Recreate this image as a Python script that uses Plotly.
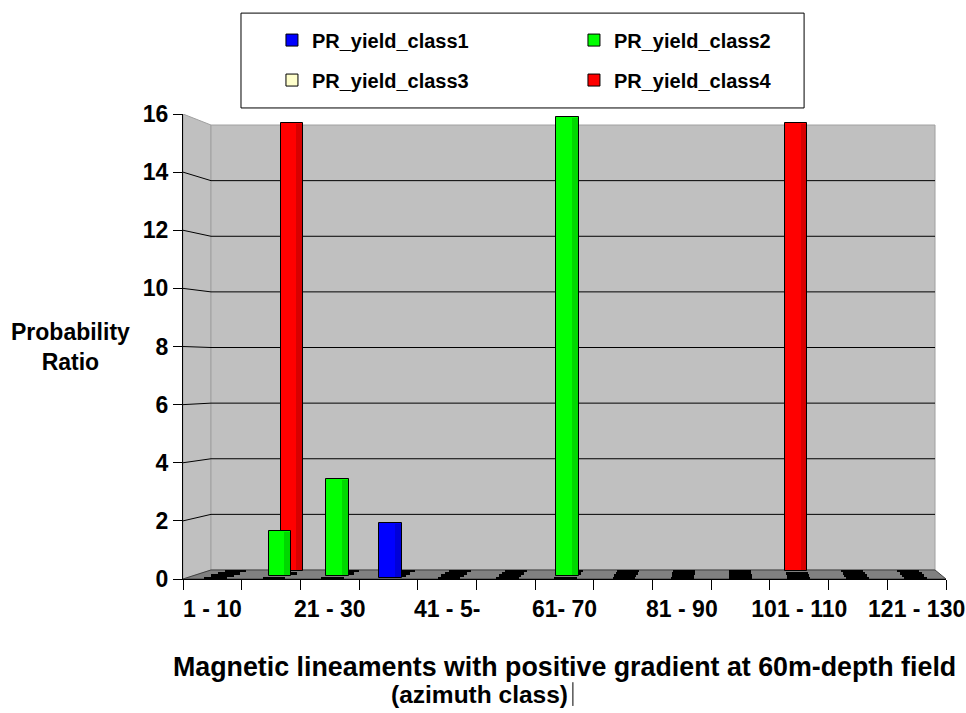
import plotly.graph_objects as go

# ---------------- data ----------------
categories = ["1 - 10", "11 - 20", "21 - 30", "31 - 40", "41 - 5-", "51 - 60", "61- 70",
              "71 - 80", "81 - 90", "91 - 100", "101 - 110", "111 - 120", "121 - 130"]
class1 = [0, 0, 0, 1.9, 0, 0, 0, 0, 0, 0, 0, 0, 0]
class2 = [0, 1.55, 3.35, 0, 0, 0, 15.9, 0, 0, 0, 0, 0, 0]
class3 = [0, 0, 0, 0, 0, 0, 0, 0, 0, 0, 0, 0, 0]
class4 = [0, 15.7, 0, 0, 0, 0, 0, 0, 0, 0, 15.7, 0, 0]
series_names = ["PR_yield_class1", "PR_yield_class2", "PR_yield_class3", "PR_yield_class4"]
series_values = [class1, class2, class3, class4]
series_colors = ["#0000FF", "#00FF00", "#FFFFCC", "#FF0000"]
side_colors = ["#0000D8", "#00D800", "#E0E0B0", "#D80000"]
shown_labels = categories[::2]
y_max = 16
y_step = 2

# ---------------- 3-D look helpers (depth f in 0..1) ----------------
N = len(categories)
WALL_DX0, WALL_DX1 = 0.477, -0.187   # horizontal depth shift at left / right end
FLOOR_DY = 0.31                       # vertical lift of the back wall floor
WALL_SHRINK = 0.0431
BAR_SHRINK = 0.02
BAR_W = 0.39
DASH_H = 0.09


def shift_x(x, f):
    return f * (WALL_DX0 + (WALL_DX1 - WALL_DX0) * x / N)


def wall_y(v, f):
    return v * (1 - WALL_SHRINK * f) + FLOOR_DY * f


fig = go.Figure()

# series are drawn back (class4) to front (class1)
for d in range(len(series_values) - 1, -1, -1):
    vals = series_values[d]
    f = (d + 0.5) / len(series_values)
    w = BAR_W * (1 - 0.05 * f)
    xs = [i + 0.5 + shift_x(i + 0.5, f) for i in range(N)]
    base = FLOOR_DY * f
    # zero-valued bars -> flat black dashes on the floor
    zx = [x for x, v in zip(xs, vals) if v == 0]
    fig.add_trace(go.Bar(
        x=zx, y=[DASH_H] * len(zx), base=[base - DASH_H / 2] * len(zx), width=w,
        marker=dict(color="black", line=dict(width=0)), showlegend=False, hoverinfo="skip"))
    hv = [v * (1 - BAR_SHRINK * f) if v else None for v in vals]
    fig.add_trace(go.Bar(
        x=xs, y=hv, base=[base] * N, width=w, name=series_names[d],
        marker=dict(color=series_colors[d], line=dict(color="black", width=1)),
        legend="legend" if d < 2 else "legend2", legendrank=d + 1,
        hovertemplate=series_names[d] + "<extra></extra>"))
    sw = 0.27 * w
    sx = [x + w / 2 - sw / 2 - 0.012 for x, v in zip(xs, vals) if v]
    sh = [v * (1 - BAR_SHRINK * f) - 0.06 for v in vals if v]
    fig.add_trace(go.Bar(
        x=sx, y=sh, base=[base + 0.03] * len(sx), width=sw,
        marker=dict(color=side_colors[d], line=dict(width=0)), showlegend=False, hoverinfo="skip"))

# helper trace so the category-label axis is rendered
fig.add_trace(go.Scatter(x=[0, N], y=[None, None], xaxis="x2", yaxis="y", mode="markers",
                         showlegend=False, hoverinfo="skip"))

# ---------------- walls, floor, gridlines ----------------
bxl, bxr = shift_x(0, 1), N + shift_x(N, 1)
shapes = []
shapes.append(dict(type="path", xref="x", yref="y", layer="below",
                   path=f"M0,0 L0,{y_max} L{bxl},{wall_y(y_max,1)} L{bxl},{wall_y(0,1)} Z",
                   fillcolor="#C0C0C0", line=dict(color="#A0A0A0", width=1)))
shapes.append(dict(type="path", xref="x", yref="y", layer="below",
                   path=f"M{bxl},{wall_y(0,1)} L{bxl},{wall_y(y_max,1)} L{bxr},{wall_y(y_max,1)} L{bxr},{wall_y(0,1)} Z",
                   fillcolor="#C0C0C0", line=dict(color="#A0A0A0", width=1)))
shapes.append(dict(type="path", xref="x", yref="y", layer="below",
                   path=f"M0,0 L{N},0 L{bxr},{wall_y(0,1)} L{bxl},{wall_y(0,1)} Z",
                   fillcolor="#808080", line=dict(color="#404040", width=1)))
for v in range(y_step, y_max, y_step):
    shapes.append(dict(type="path", xref="x", yref="y", layer="below",
                       path=f"M0,{v} L{bxl},{wall_y(v,1)} L{bxr},{wall_y(v,1)}",
                       line=dict(color="black", width=1)))
# legend box
shapes.append(dict(type="rect", xref="paper", yref="paper", layer="below",
                   x0=0.076, x1=0.814, y0=1.013, y1=1.217,
                   fillcolor="white", line=dict(color="black", width=1)))
# text cursor next to the axis title
shapes.append(dict(type="line", xref="paper", yref="paper", x0=0.511, x1=0.511,
                   y0=-0.222, y1=-0.273, line=dict(color="black", width=1)))

FONT = "Liberation Sans, Arial, sans-serif"
bold = lambda s: dict(family=FONT, size=s, color="black", weight="bold")

fig.update_layout(
    width=966, height=713,
    margin=dict(l=183, r=20, t=114, b=134, autoexpand=False),
    paper_bgcolor="white", plot_bgcolor="white",
    barmode="overlay", bargap=0,
    shapes=shapes,
    xaxis=dict(range=[0, N], tickvals=list(range(N + 1)), showticklabels=False,
               ticks="outside", ticklen=10, tickcolor="black", showline=True,
               linecolor="black", linewidth=1, showgrid=False, zeroline=False, fixedrange=True),
    xaxis2=dict(overlaying="x", anchor="y", side="bottom", range=[0, N],
                tickvals=[i + 0.5 for i in range(0, N, 2)], ticktext=shown_labels,
                ticks="outside", ticklen=9, tickcolor="rgba(0,0,0,0)", tickfont=bold(23),
                showline=False, showgrid=False, zeroline=False, fixedrange=True),
    yaxis=dict(range=[0, y_max], dtick=y_step, tick0=0, ticks="outside", ticklen=9,
               tickcolor="black", showline=True, linecolor="black", linewidth=1,
               showgrid=False, zeroline=False, tickfont=bold(23), ticklabelstandoff=0,
               fixedrange=True),
    legend=dict(orientation="h", x=0.1166, y=1.159, xanchor="left", yanchor="middle",
                entrywidth=257, font=bold(20), bgcolor="rgba(0,0,0,0)", borderwidth=0),
    legend2=dict(orientation="h", x=0.1166, y=1.073, xanchor="left", yanchor="middle",
                 entrywidth=257, font=bold(20), bgcolor="rgba(0,0,0,0)", borderwidth=0),
    annotations=[
        dict(text="Probability<br>Ratio", xref="paper", yref="paper", x=-0.148, y=0.5,
             xanchor="center", yanchor="middle", showarrow=False, font=bold(23)),
        dict(text="Magnetic lineaments with positive gradient at 60m-depth field",
             xref="paper", yref="paper", x=0.5, y=-0.189, xanchor="center", yanchor="middle",
             showarrow=False, font=bold(26.8)),
        dict(text="(azimuth class)", xref="paper", yref="paper", x=0.507, y=-0.249,
             xanchor="right", yanchor="middle", showarrow=False, font=bold(24.5)),
    ],
)

fig.write_html("out.html")
